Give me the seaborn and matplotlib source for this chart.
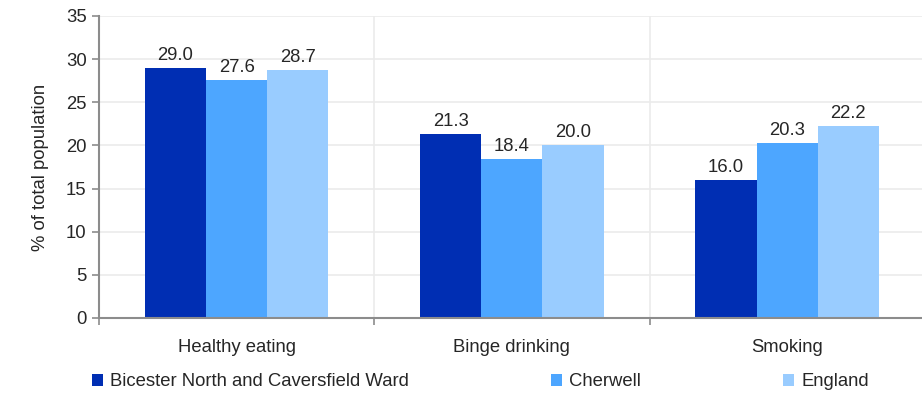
import matplotlib
matplotlib.use("Agg")
import matplotlib.pyplot as plt
import seaborn as sns
import pandas as pd

categories = ["Healthy eating", "Binge drinking", "Smoking"]
areas = ["Bicester North and Caversfield Ward", "Cherwell", "England"]
ward_vals = [29.0, 21.3, 16.0]
cherwell_vals = [27.6, 18.4, 20.3]
england_vals = [28.7, 20.0, 22.2]
colors = ["#002EB3", "#4DA6FF", "#99CCFF"]

rows = []
for area, vals in zip(areas, [ward_vals, cherwell_vals, england_vals]):
    for cat, v in zip(categories, vals):
        rows.append({"category": cat, "area": area, "value": v})
df = pd.DataFrame(rows)

sns.set_style("white")
plt.rcParams["font.family"] = ["Liberation Sans", "DejaVu Sans"]
fs = 13.3

fig = plt.figure(figsize=(9.22, 3.94), dpi=100)
ax = fig.add_axes([99/922, 1 - 318/394, 1 - 99/922 + 0.003, (318 - 16)/394])

sns.barplot(data=df, x="category", y="value", hue="area", palette=colors,
            width=0.667, saturation=1, linewidth=0, ax=ax, legend=True)

for cont in ax.containers:
    ax.bar_label(cont, fmt="%.1f", padding=3, fontsize=fs)

ax.set_ylim(0, 35)
ax.set_xlim(-0.5, 2.5)
ax.set_yticks(range(0, 36, 5))
ax.grid(axis="y", color="#ebebeb", linewidth=1.2)
for xb in [0.5, 1.5]:
    ax.axvline(xb, color="#ebebeb", linewidth=1.2, zorder=0)
ax.set_axisbelow(True)

for side in ["top", "right"]:
    ax.spines[side].set_visible(False)
for side in ["left", "bottom"]:
    ax.spines[side].set_color("#8c8c8c")
    ax.spines[side].set_linewidth(1.5)

ax.tick_params(axis="y", length=5, color="#8c8c8c", width=1.2, labelsize=fs, left=True, pad=4)
ax.tick_params(axis="x", length=0, labelsize=fs, pad=15)
ax.set_xticks([-0.5, 0.5, 1.5], minor=True)
ax.tick_params(axis="x", which="minor", length=5, color="#8c8c8c", width=1.2, bottom=True)

ax.set_xlabel("")
ax.set_ylabel("% of total population", fontsize=fs, labelpad=12)

handles, labels = ax.get_legend_handles_labels()
ax.get_legend().remove()
legend_x = [92, 551, 783]
for h, lab, lx in zip(handles, labels, legend_x):
    fig.legend([h], [lab], loc="center left", bbox_to_anchor=(lx/922, 1 - 382/394),
               frameon=False, fontsize=fs, handlelength=0.6, handleheight=0.6,
               handletextpad=0.4, borderpad=0, borderaxespad=0)

fig.savefig("out.png", dpi=100)
